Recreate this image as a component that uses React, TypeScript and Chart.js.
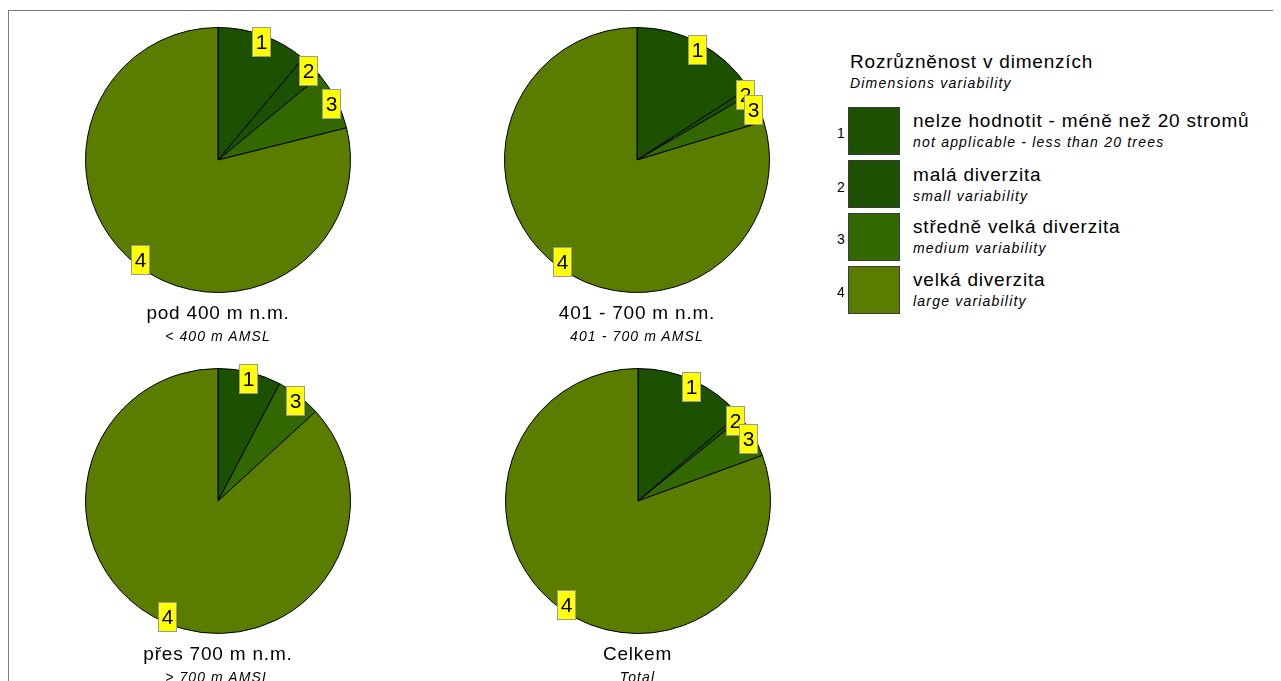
import React, { useEffect, useRef } from "react";
import { Chart, registerables } from "chart.js";

Chart.register(...registerables);

// ---- data ----
const categories = ["1", "2", "3", "4"];
const legendCz = [
  "nelze hodnotit - méně než 20 stromů",
  "malá diverzita",
  "středně velká diverzita",
  "velká diverzita",
];
const legendEn = [
  "not applicable - less than 20 trees",
  "small variability",
  "medium variability",
  "large variability",
];
const sliceColors = ["#1b5100", "#1b5100", "#336800", "#5a7d00"];

const valuesBelow400 = [11.1, 2.9, 7.1, 78.9];
const values401to700 = [15.9, 0.7, 3.7, 79.7];
const valuesAbove700 = [7.7, 0, 5.5, 86.8];
const valuesTotal = [13.7, 0.5, 5.2, 80.6];

const pieTitlesCz = ["pod 400 m n.m.", "401 - 700 m n.m.", "přes 700 m n.m.", "Celkem"];
const pieTitlesEn = ["< 400 m AMSL", "401 - 700 m AMSL", "> 700 m AMSL", "Total"];

const legendTitleCz = "Rozrůzněnost v dimenzích";
const legendTitleEn = "Dimensions variability";

const FONT = 'Arial, "Liberation Sans", sans-serif';
const BIG = 19;
const BIG_ASC = 0.8465 * BIG;
const SMALL = 14;
const SMALL_ASC = 0.8465 * SMALL;

const sliceLabelPlugin = {
  id: "sliceLabels",
  afterDatasetsDraw(chart: any) {
    const ctx = chart.ctx;
    const meta = chart.getDatasetMeta(0);
    const data = chart.data.datasets[0].data as number[];
    meta.data.forEach((arc: any, i: number) => {
      if (!data[i]) return;
      const p = arc.getProps(["x", "y", "startAngle", "endAngle", "outerRadius"], true);
      const mid = (p.startAngle + p.endAngle) / 2;
      const r = p.outerRadius * 0.953;
      const lx = p.x + Math.cos(mid) * r;
      const ly = p.y + Math.sin(mid) * r;
      const w = 18;
      const h = 29;
      const x0 = Math.round(lx - w / 2) + 0.5;
      const y0 = Math.round(ly - h / 2) + 0.5;
      ctx.save();
      ctx.fillStyle = "#ffff00";
      ctx.fillRect(x0, y0, w, h);
      ctx.strokeStyle = "#9a9a9a";
      ctx.lineWidth = 1;
      ctx.strokeRect(x0, y0, w, h);
      ctx.fillStyle = "#000";
      ctx.font = "21px " + FONT;
      ctx.textAlign = "center";
      ctx.textBaseline = "middle";
      ctx.fillText(chart.data.labels[i], x0 + w / 2, y0 + h / 2 + 1);
      ctx.restore();
    });
  },
};

function Pie({ values, left, top }: { values: number[]; left: number; top: number }) {
  const ref = useRef<HTMLCanvasElement>(null);
  useEffect(() => {
    const chart = new Chart(ref.current as HTMLCanvasElement, {
      type: "pie",
      data: {
        labels: categories,
        datasets: [
          {
            data: values,
            backgroundColor: sliceColors,
            borderColor: "#000",
            borderWidth: 1,
            hoverOffset: 0,
            hoverBorderWidth: 1,
          },
        ],
      },
      options: {
        responsive: false,
        animation: false,
        events: [],
        layout: { padding: 17 },
        plugins: { legend: { display: false }, tooltip: { enabled: false } },
      },
      plugins: [sliceLabelPlugin],
    });
    return () => chart.destroy();
  }, [values]);
  return (
    <canvas
      ref={ref}
      width={300}
      height={300}
      style={{ position: "absolute", left, top, width: 300, height: 300 }}
    />
  );
}

const textBase: React.CSSProperties = {
  position: "absolute",
  fontFamily: FONT,
  color: "#000",
  whiteSpace: "nowrap",
};

const bigText: React.CSSProperties = {
  ...textBase,
  fontSize: BIG,
  lineHeight: BIG + "px",
  letterSpacing: 0.8,
};

const smallItalic: React.CSSProperties = {
  ...textBase,
  fontSize: SMALL,
  lineHeight: SMALL + "px",
  fontStyle: "italic",
  letterSpacing: 1.2,
};

function PieTitle({ cx, baseline, cz, en }: { cx: number; baseline: number; cz: string; en: string }) {
  return (
    <>
      <div style={{ ...bigText, left: cx - 150, width: 300, textAlign: "center", top: baseline - BIG_ASC }}>
        {cz}
      </div>
      <div
        style={{
          ...smallItalic,
          left: cx - 150,
          width: 300,
          textAlign: "center",
          top: baseline + 21.5 - SMALL_ASC,
          letterSpacing: 1.1,
        }}
      >
        {en}
      </div>
    </>
  );
}

export default function App() {
  // container is offset by the body margin (8,8); coordinates below are container coords
  const pies = [
    { values: valuesBelow400, cx: 210, cy: 152 },
    { values: values401to700, cx: 629, cy: 152 },
    { values: valuesAbove700, cx: 210, cy: 492.5 },
    { values: valuesTotal, cx: 629.5, cy: 492.5 },
  ];
  const titleBaselines = [311.5, 311.5, 652, 652];
  const legendBoxTops = [98.7, 152, 204.7, 257.7];
  return (
    <div style={{ position: "relative", width: 1265, height: 673, overflow: "hidden", background: "#fff" }}>
      <div
        style={{
          position: "absolute",
          left: 0,
          top: 2,
          width: 2000,
          height: 2000,
          borderLeft: "1px solid #7a7a7a",
          borderTop: "1px solid #7a7a7a",
        }}
      />
      {pies.map((p, i) => (
        <Pie key={i} values={p.values} left={p.cx - 150} top={p.cy - 150} />
      ))}
      {pies.map((p, i) => (
        <PieTitle key={"t" + i} cx={p.cx} baseline={titleBaselines[i]} cz={pieTitlesCz[i]} en={pieTitlesEn[i]} />
      ))}
      {/* legend */}
      <div style={{ ...bigText, left: 842, top: 60.3 - BIG_ASC }}>{legendTitleCz}</div>
      <div style={{ ...smallItalic, left: 842, top: 80.3 - SMALL_ASC }}>{legendTitleEn}</div>
      {categories.map((c, i) => {
        const t = legendBoxTops[i];
        return (
          <React.Fragment key={"l" + i}>
            <div style={{ ...textBase, left: 829, top: t + 31.5 - SMALL_ASC, fontSize: SMALL, lineHeight: SMALL + "px" }}>
              {c}
            </div>
            <div
              style={{
                position: "absolute",
                left: 840,
                top: t,
                width: 52,
                height: 48,
                boxSizing: "border-box",
                border: "1px solid #3c3c3c",
                background: sliceColors[i],
              }}
            />
            <div style={{ ...bigText, left: 905, top: t + 20.6 - BIG_ASC }}>{legendCz[i]}</div>
            <div style={{ ...smallItalic, left: 905, top: t + 40.6 - SMALL_ASC }}>{legendEn[i]}</div>
          </React.Fragment>
        );
      })}
    </div>
  );
}
